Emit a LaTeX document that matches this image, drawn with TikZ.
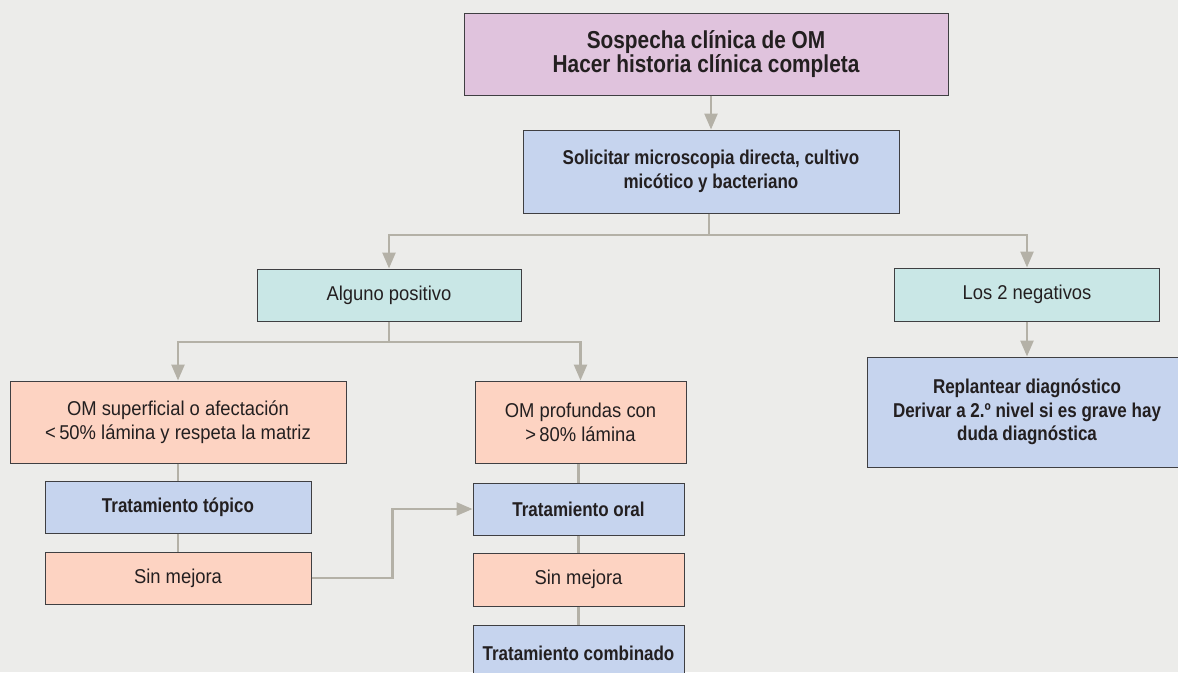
\documentclass[tikz,border=0pt]{standalone}
\usepackage{fontspec}
\newfontfamily\regfont[FakeStretch=0.92]{Liberation Sans}
\newfontfamily\boldfont[FakeStretch=0.85]{Liberation Sans}
\usetikzlibrary{arrows.meta}
\definecolor{bgc}{HTML}{ECECEA}
\definecolor{pinkc}{HTML}{E0C3DD}
\definecolor{bluec}{HTML}{C6D4EE}
\definecolor{tealc}{HTML}{C9E7E6}
\definecolor{salmc}{HTML}{FDD3C2}
\definecolor{linec}{HTML}{B4B1A7}
\definecolor{edgec}{HTML}{3F3F42}
\definecolor{txtc}{HTML}{231F20}
\tikzset{
  box/.style={rectangle, draw=edgec, line width=1pt, inner sep=0pt, align=center, text=txtc},
  regbox/.style={box, font=\regfont\fontsize{20}{24}\selectfont},
  bldbox/.style={box, font=\boldfont\bfseries\fontsize{20}{23.5}\selectfont},
  conn/.style={draw=linec, line width=2.5pt},
  arr/.style={conn, -{Triangle[length=16pt,width=13pt]}},
}
\begin{document}
\begin{tikzpicture}[x=1pt,y=-1pt]
\fill[bgc] (0,0) rectangle (1178,672);
\useasboundingbox (0,0) rectangle (1178,672);
\clip (0,0) rectangle (1178,672);
% nodes
\node[box, fill=pinkc, minimum width=484pt, minimum height=82pt,
      font=\boldfont\bfseries\fontsize{24.5}{23}\selectfont] (top) at (706,54)
      {Sospecha clínica de OM\\Hacer historia clínica completa};
\node[bldbox, fill=bluec, minimum width=376pt, minimum height=83pt] (sol) at (711,171.5)
      {Solicitar microscopia directa, cultivo\\micótico y bacteriano};
\node[regbox, fill=tealc, minimum width=264pt, minimum height=52pt] (alg) at (389,295)
      {Alguno positivo};
\node[regbox, fill=tealc, minimum width=265pt, minimum height=53pt] (neg) at (1027,294.5)
      {Los 2 negativos};
\node[bldbox, fill=bluec, minimum width=320pt, minimum height=110pt] (rep) at (1027,412)
      {Replantear diagnóstico\\Derivar a 2.º nivel si es grave hay\\duda diagnóstica};
\node[regbox, fill=salmc, minimum width=336pt, minimum height=82pt] (sup) at (178,422)
      {OM superficial o afectación\\<\,50\% lámina y respeta la matriz};
\node[regbox, fill=salmc, minimum width=211pt, minimum height=82pt] (prof) at (580.5,422)
      {OM profundas con\\>\,80\% lámina};
\node[bldbox, fill=bluec, minimum width=266pt, minimum height=52pt] (topi) at (178,507)
      {Tratamiento tópico};
\node[regbox, fill=salmc, minimum width=266pt, minimum height=52pt] (sin1) at (178,578)
      {Sin mejora};
\node[bldbox, fill=bluec, minimum width=211pt, minimum height=52pt] (oral) at (578.5,509)
      {Tratamiento oral};
\node[regbox, fill=salmc, minimum width=211pt, minimum height=53pt] (sin2) at (578.5,579.5)
      {Sin mejora};
\node[bldbox, fill=bluec, minimum width=211pt, minimum height=56pt] (comb) at (578.5,653)
      {Tratamiento combinado};
% connectors
\draw[arr] (top.south -| sol.north) -- (sol.north);
\coordinate (b1) at (709,235);
\draw[conn] (sol.south -| b1) -- (b1);
\draw[arr] (b1) -| (alg.north);
\draw[arr] (b1) -| (neg.north);
\draw[arr] (neg.south) -- (rep.north);
\coordinate (b2) at (388,342);
\draw[conn] (alg.south) -- (alg.south |- b2);
\draw[arr] (alg.south |- b2) -| (sup.north);
\draw[arr] (alg.south |- b2) -| (prof.north);
\draw[conn] (sup.south) -- (topi.north);
\draw[conn] (topi.south) -- (sin1.north);
\draw[conn] (prof.south -| oral.north) -- (oral.north);
\draw[conn] (oral.south) -- (sin2.north);
\draw[conn] (sin2.south) -- (comb.north);
\draw[arr] (sin1.east) -- ++(81,0) |- (oral.west);
% redraw boxes over connector ends
\end{tikzpicture}
\end{document}
